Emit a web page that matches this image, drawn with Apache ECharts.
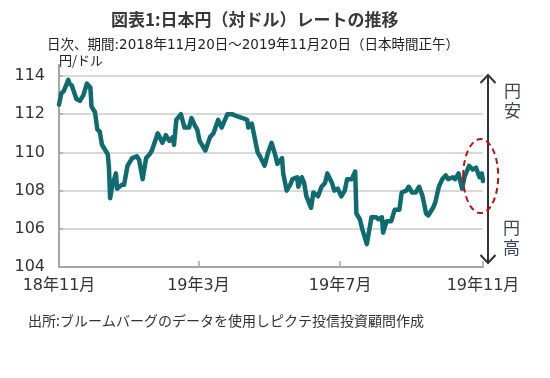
<!DOCTYPE html>
<html>
<head>
<meta charset="utf-8">
<script src="https://cdn.jsdelivr.net/npm/echarts@6/dist/echarts.min.js"></script>
<style>
html,body{margin:0;padding:0;background:#fff;}
#chart{width:550px;height:378px;}
</style>
</head>
<body>
<div id="chart"></div>
<script>
const dates = [
'2018-11-20','2018-11-22','2018-11-24','2018-11-28','2018-11-29','2018-12-01','2018-12-02','2018-12-05','2018-12-08','2018-12-11',
'2018-12-14','2018-12-17','2018-12-18','2018-12-21','2018-12-23','2018-12-25','2018-12-27','2018-12-30','2019-01-01','2019-01-02',
'2019-01-03','2019-01-05','2019-01-08','2019-01-09','2019-01-13','2019-01-15','2019-01-18','2019-01-22','2019-01-26','2019-01-28',
'2019-01-31','2019-02-03','2019-02-06','2019-02-08','2019-02-13','2019-02-17','2019-02-20','2019-02-23','2019-02-26','2019-02-27',
'2019-03-01','2019-03-05','2019-03-08','2019-03-12','2019-03-14','2019-03-17','2019-03-19','2019-03-21','2019-03-26','2019-03-30',
'2019-04-02','2019-04-06','2019-04-09','2019-04-14','2019-04-18','2019-04-22','2019-04-27','2019-05-01','2019-05-02','2019-05-05',
'2019-05-08','2019-05-10','2019-05-12','2019-05-16','2019-05-19','2019-05-22','2019-05-25','2019-05-27','2019-05-31','2019-06-01',
'2019-06-04','2019-06-07','2019-06-09','2019-06-13','2019-06-14','2019-06-17','2019-06-19','2019-06-21','2019-06-25','2019-06-27',
'2019-07-01','2019-07-04','2019-07-07','2019-07-09','2019-07-13','2019-07-15','2019-07-18','2019-07-21','2019-07-24','2019-07-26',
'2019-07-30','2019-08-02','2019-08-03','2019-08-06','2019-08-08','2019-08-12','2019-08-14','2019-08-16','2019-08-20','2019-08-22',
'2019-08-25','2019-08-26','2019-08-29','2019-09-02','2019-09-05','2019-09-09','2019-09-11','2019-09-15','2019-09-17','2019-09-20',
'2019-09-23','2019-09-26','2019-09-29','2019-10-02','2019-10-04','2019-10-08','2019-10-10','2019-10-13','2019-10-16','2019-10-19',
'2019-10-21','2019-10-25','2019-10-27','2019-10-30','2019-11-02','2019-11-04','2019-11-08','2019-11-11','2019-11-14','2019-11-17',
'2019-11-19','2019-11-20'
];
const usdjpy = [
112.5,113.1,113.2,113.8,113.6,113.5,113.6,112.8,112.7,113.0,
113.6,113.4,112.4,112.1,111.2,111.1,110.4,110.1,109.9,109.2,
107.6,108.3,108.9,108.1,108.3,108.3,109.3,109.7,109.8,109.6,
108.6,109.7,109.9,110.1,111.0,110.5,110.9,110.6,110.8,110.4,
111.7,112.0,111.3,111.3,111.8,111.4,111.2,110.6,110.1,110.8,
111.0,111.7,111.3,112.0,112.0,111.9,111.8,111.7,111.3,111.5,
110.6,110.0,109.8,109.3,110.0,110.5,109.9,109.4,109.7,108.9,
108.0,108.3,108.6,108.7,108.2,108.7,108.4,107.7,107.1,107.9,
107.7,108.2,108.4,108.9,108.4,108.0,108.1,107.7,108.0,108.6,
108.6,109.0,106.8,106.5,106.0,105.2,105.9,106.6,106.6,106.5,
106.6,105.8,106.4,106.4,107.0,107.0,107.9,108.0,108.2,107.9,
107.9,108.2,107.7,106.8,106.7,107.1,107.4,108.2,108.6,108.8,
108.6,108.7,108.6,108.9,108.1,108.7,109.3,109.1,109.2,108.7,
108.9,108.5
];
const tickDates = ['2018-11-20','2019-03-20','2019-07-20','2019-11-20'];
const tickLabels = ['18年11月','19年3月','19年7月','19年11月'];
const yTicks = [104,106,108,110,112,114];

const FONT = '"DejaVu Sans", "Noto Sans CJK JP", sans-serif';
const JFONT = '"Noto Sans CJK JP", "Noto Sans", sans-serif';
const toTs = d => +new Date(d + 'T00:00:00');
const tickTs = tickDates.map(toTs);

const chart = echarts.init(document.getElementById('chart'), null, {renderer: 'canvas'});
const seriesData = dates.map((d, i) => [toTs(d), usdjpy[i]]);

chart.setOption({
  animation: false,
  textStyle: {fontFamily: FONT},
  title: [
    {text: '図表1:日本円（対ドル）レートの推移', left: 106, top: 6,
     textStyle: {fontFamily: JFONT, fontSize: 17, fontWeight: 'bold', color: '#383838'}},
    {text: '日次、期間:2018年11月20日～2019年11月20日（日本時間正午）', left: 42, top: 34,
     textStyle: {fontFamily: FONT, fontSize: 13.5, fontWeight: 'normal', color: '#222'}},
    {text: '円/ドル', left: 54, top: 49,
     textStyle: {fontFamily: JFONT, fontSize: 13, fontWeight: 'normal', color: '#222'}},
    {text: '出所:ブルームバーグのデータを使用しピクテ投信投資顧問作成', left: 23, top: 309,
     textStyle: {fontFamily: JFONT, fontSize: 14, fontWeight: 'normal', color: '#333'}}
  ],
  grid: {left: 59, right: 67, top: 76, bottom: 111, containLabel: false},
  xAxis: {
    type: 'value',
    min: tickTs[0],
    max: tickTs[tickTs.length - 1],
    axisLine: {show: true, lineStyle: {color: '#a6a6a6', width: 2}},
    axisTick: {show: true, inside: true, length: 6, customValues: tickTs, lineStyle: {color: '#a6a6a6', width: 1.5}},
    axisLabel: {
      customValues: tickTs,
      fontFamily: FONT, fontSize: 16, color: '#333', margin: 11,
      formatter: function (v) {
        const i = tickTs.indexOf(v);
        return i >= 0 ? tickLabels[i] : '';
      }
    },
    splitLine: {show: false}
  },
  yAxis: {
    type: 'value',
    min: yTicks[0], max: yTicks[yTicks.length - 1], interval: 2,
    axisLine: {show: true, lineStyle: {color: '#a6a6a6', width: 2}},
    axisTick: {show: true, inside: true, length: 4, lineStyle: {color: '#a6a6a6', width: 1.5}},
    axisLabel: {fontFamily: FONT, fontSize: 16, color: '#333', margin: 14},
    splitLine: {show: true, lineStyle: {color: '#d9d9d9', width: 2}}
  },
  series: [{
    type: 'line',
    data: seriesData,
    showSymbol: false,
    symbol: 'none',
    lineStyle: {color: '#0f6b70', width: 4.5, join: 'round', cap: 'round'},
    z: 5
  }]
});

function px(t, v) { return chart.convertToPixel({gridIndex: 0}, [t, v]); }
const topP = px(tickTs[3], 114);
const botP = px(tickTs[3], 104);
const y0P = px(tickTs[0], 114);
const ax = topP[0] + 5;
const yTop = topP[1] - 1;
const yBot = botP[1] - 4;
const c = px(toTs('2019-11-18'), 108.76);
const rx = 17.5, ry = 37;

chart.setOption({
  graphic: [
    {type: 'line', shape: {x1: y0P[0], y1: y0P[1], x2: y0P[0], y2: y0P[1] - 12}, style: {stroke: '#a6a6a6', lineWidth: 2}, z: 4},
    {type: 'line', shape: {x1: ax, y1: yTop, x2: ax, y2: yBot}, style: {stroke: '#333', lineWidth: 2}, z: 10},
    {type: 'polyline', shape: {points: [[ax - 7.5, yTop + 8], [ax, yTop], [ax + 7.5, yTop + 8]]}, style: {stroke: '#333', lineWidth: 2, fill: null}, z: 10},
    {type: 'polyline', shape: {points: [[ax - 7.5, yBot - 8], [ax, yBot], [ax + 7.5, yBot - 8]]}, style: {stroke: '#333', lineWidth: 2, fill: null}, z: 10},
    {type: 'text', x: ax + 16, y: yTop + 6, style: {text: '円\n安', font: '17px ' + JFONT, lineHeight: 20, fill: '#3c4654', align: 'left', verticalAlign: 'top'}, z: 10},
    {type: 'text', x: ax + 15, y: yBot - 45, style: {text: '円\n高', font: '17px ' + JFONT, lineHeight: 20, fill: '#3c4654', align: 'left', verticalAlign: 'top'}, z: 10},
    {type: 'ellipse', shape: {cx: c[0], cy: c[1], rx: rx, ry: ry}, style: {stroke: '#b81414', lineWidth: 2, lineDash: [6, 4], fill: null}, z: 11}
  ]
});
</script>
</body>
</html>
